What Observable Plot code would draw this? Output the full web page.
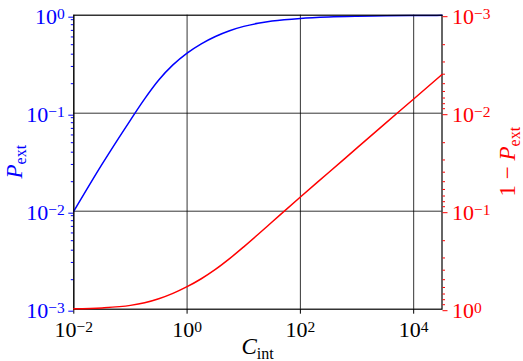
<!DOCTYPE html>
<html><head><meta charset="utf-8">
<script src="https://cdn.jsdelivr.net/npm/d3@7"></script>
<script src="https://cdn.jsdelivr.net/npm/@observablehq/plot@0.6"></script>
<style>
body{margin:0;background:#fff}
#wrap{position:relative;width:523px;height:361px;background:#fff}
#wrap svg{position:absolute;left:0;top:0}
</style></head><body><div id="wrap"></div>
<script>
// Data
const C_int = [0.01, 0.0316, 0.1, 0.178, 0.316, 0.562, 1, 1.78, 3.16, 5.62, 10, 17.8, 31.6, 100, 316, 1000, 3162, 10000, 31623];
const P_ext = [0.0100, 0.0302, 0.0851, 0.140, 0.218, 0.311, 0.411, 0.511, 0.607, 0.695, 0.769, 0.827, 0.871, 0.928, 0.960, 0.977, 0.987, 0.993, 0.996];
const one_minus_P_ext = [0.991, 0.970, 0.914, 0.859, 0.782, 0.689, 0.589, 0.489, 0.393, 0.305, 0.231, 0.173, 0.129, 0.0716, 0.0403, 0.0226, 0.0127, 0.00716, 0.00403];
const xTicks = [1e-2, 1e0, 1e2, 1e4];
const xTickLabels = ["10^-2", "10^0", "10^2", "10^4"];
const yTicks = [1e-3, 1e-2, 1e-1, 1e0];
const yTickLabels = ["10^-3", "10^-2", "10^-1", "10^0"];
const rightTickLabels = ["10^-3", "10^-2", "10^-1", "10^0"];

const blueData = C_int.map((c, i) => ({C: c, P: P_ext[i]}));
const redData = C_int.map((c, i) => ({C: c, Q: one_minus_P_ext[i]}));
const yMinor = d3.scaleLog().domain([1e-3, 1]).ticks().filter(v => !yTicks.some(t => Math.abs(t - v) / t < 1e-9));

const FONT = "Liberation Serif";
const common = {
  width: 523, height: 361,
  marginLeft: 73.3, marginRight: 81.5, marginTop: 14.7, marginBottom: 52.3,
  x: {type: "log", domain: [0.01, 31623]},
  style: {fontFamily: FONT, fontSize: "22px", background: "transparent", overflow: "visible"}
};

const p1 = Plot.plot({
  ...common,
  y: {type: "log", domain: [1e-3, 1]},
  marks: [
    Plot.gridX(xTicks, {stroke: "#000", strokeOpacity: 1, strokeWidth: 0.8}),
    Plot.gridY([1e-2, 1e-1], {stroke: "#000", strokeOpacity: 1, strokeWidth: 0.8}),
    Plot.line(blueData, {x: "C", y: "P", stroke: "#0000ff", strokeWidth: 1.5, curve: "monotone-x"}),
    Plot.axisY(yMinor, {tickSize: 2.5, tickFormat: () => "", stroke: "#0000ff", label: null}),
    Plot.axisY(yTicks, {tickSize: 5, tickPadding: 4, tickFormat: d => yTickLabels[yTicks.indexOf(d)], stroke: "#0000ff", fill: "#0000ff", fontSize: 22, label: null, dy: 2}),
    Plot.axisX(xTicks, {tickSize: 5, tickPadding: 6.7, tickFormat: d => xTickLabels[xTicks.indexOf(d)], stroke: "#000", fill: "#000", fontSize: 22, label: null}),
    Plot.frame({stroke: "#000", strokeWidth: 1.2})
  ]
});

const p2 = Plot.plot({
  ...common,
  x: {type: "log", domain: [0.01, 31623], axis: null},
  y: {type: "log", domain: [1e-3, 1], reverse: true},
  marks: [
    Plot.line(redData, {x: "C", y: "Q", stroke: "#ff0000", strokeWidth: 1.5, curve: "monotone-x"}),
    Plot.axisY(yMinor, {anchor: "right", tickSize: 2.5, tickFormat: () => "", stroke: "#ff0000", label: null}),
    Plot.axisY(yTicks, {anchor: "right", tickSize: 5, tickPadding: 5, tickFormat: d => rightTickLabels[yTicks.indexOf(d)], stroke: "#ff0000", fill: "#ff0000", fontSize: 22, label: null, dy: 1.5})
  ]
});

function superscripts(svg) {
  d3.select(svg).selectAll("text").each(function () {
    const m = /^10\^(.+)$/.exec(this.textContent);
    if (!m) return;
    const sel = d3.select(this);
    sel.selectAll("*").remove();
    sel.text(null);
    sel.append("tspan").text("10");
    sel.append("tspan").attr("dy", -5).attr("font-size", 15.5).text(m[1].replace("-", "\u2212"));
  });
}
superscripts(p1);
superscripts(p2);

function addLabel(svg, x, y, rotate, color, parts) {
  const t = d3.select(svg).append("text")
    .attr("transform", `translate(${x},${y})` + (rotate ? ` rotate(${rotate})` : ""))
    .attr("text-anchor", "middle")
    .attr("fill", color)
    .attr("font-family", FONT)
    .attr("font-size", 23);
  let shift = 0;
  for (const p of parts) {
    const s = t.append("tspan").text(p.text);
    if (p.italic) s.attr("font-style", "italic");
    if (p.sub) { s.attr("font-size", 16).attr("dy", 4.5 - shift); shift = 4.5; }
    else if (shift) { s.attr("dy", -shift); shift = 0; }
  }
}
addLabel(p1, 21.5, 161.7, -90, "#0000ff", [{text: "P", italic: true}, {text: "ext", sub: true}]);
addLabel(p2, 515, 161.7, -90, "#ff0000", [{text: "1 \u2212 "}, {text: "P", italic: true}, {text: "ext", sub: true}]);
addLabel(p1, 257.5, 354, 0, "#000", [{text: "C", italic: true}, {text: "int", sub: true}]);

const wrap = document.getElementById("wrap");
wrap.appendChild(p1);
wrap.appendChild(p2);
</script>
</body></html>
